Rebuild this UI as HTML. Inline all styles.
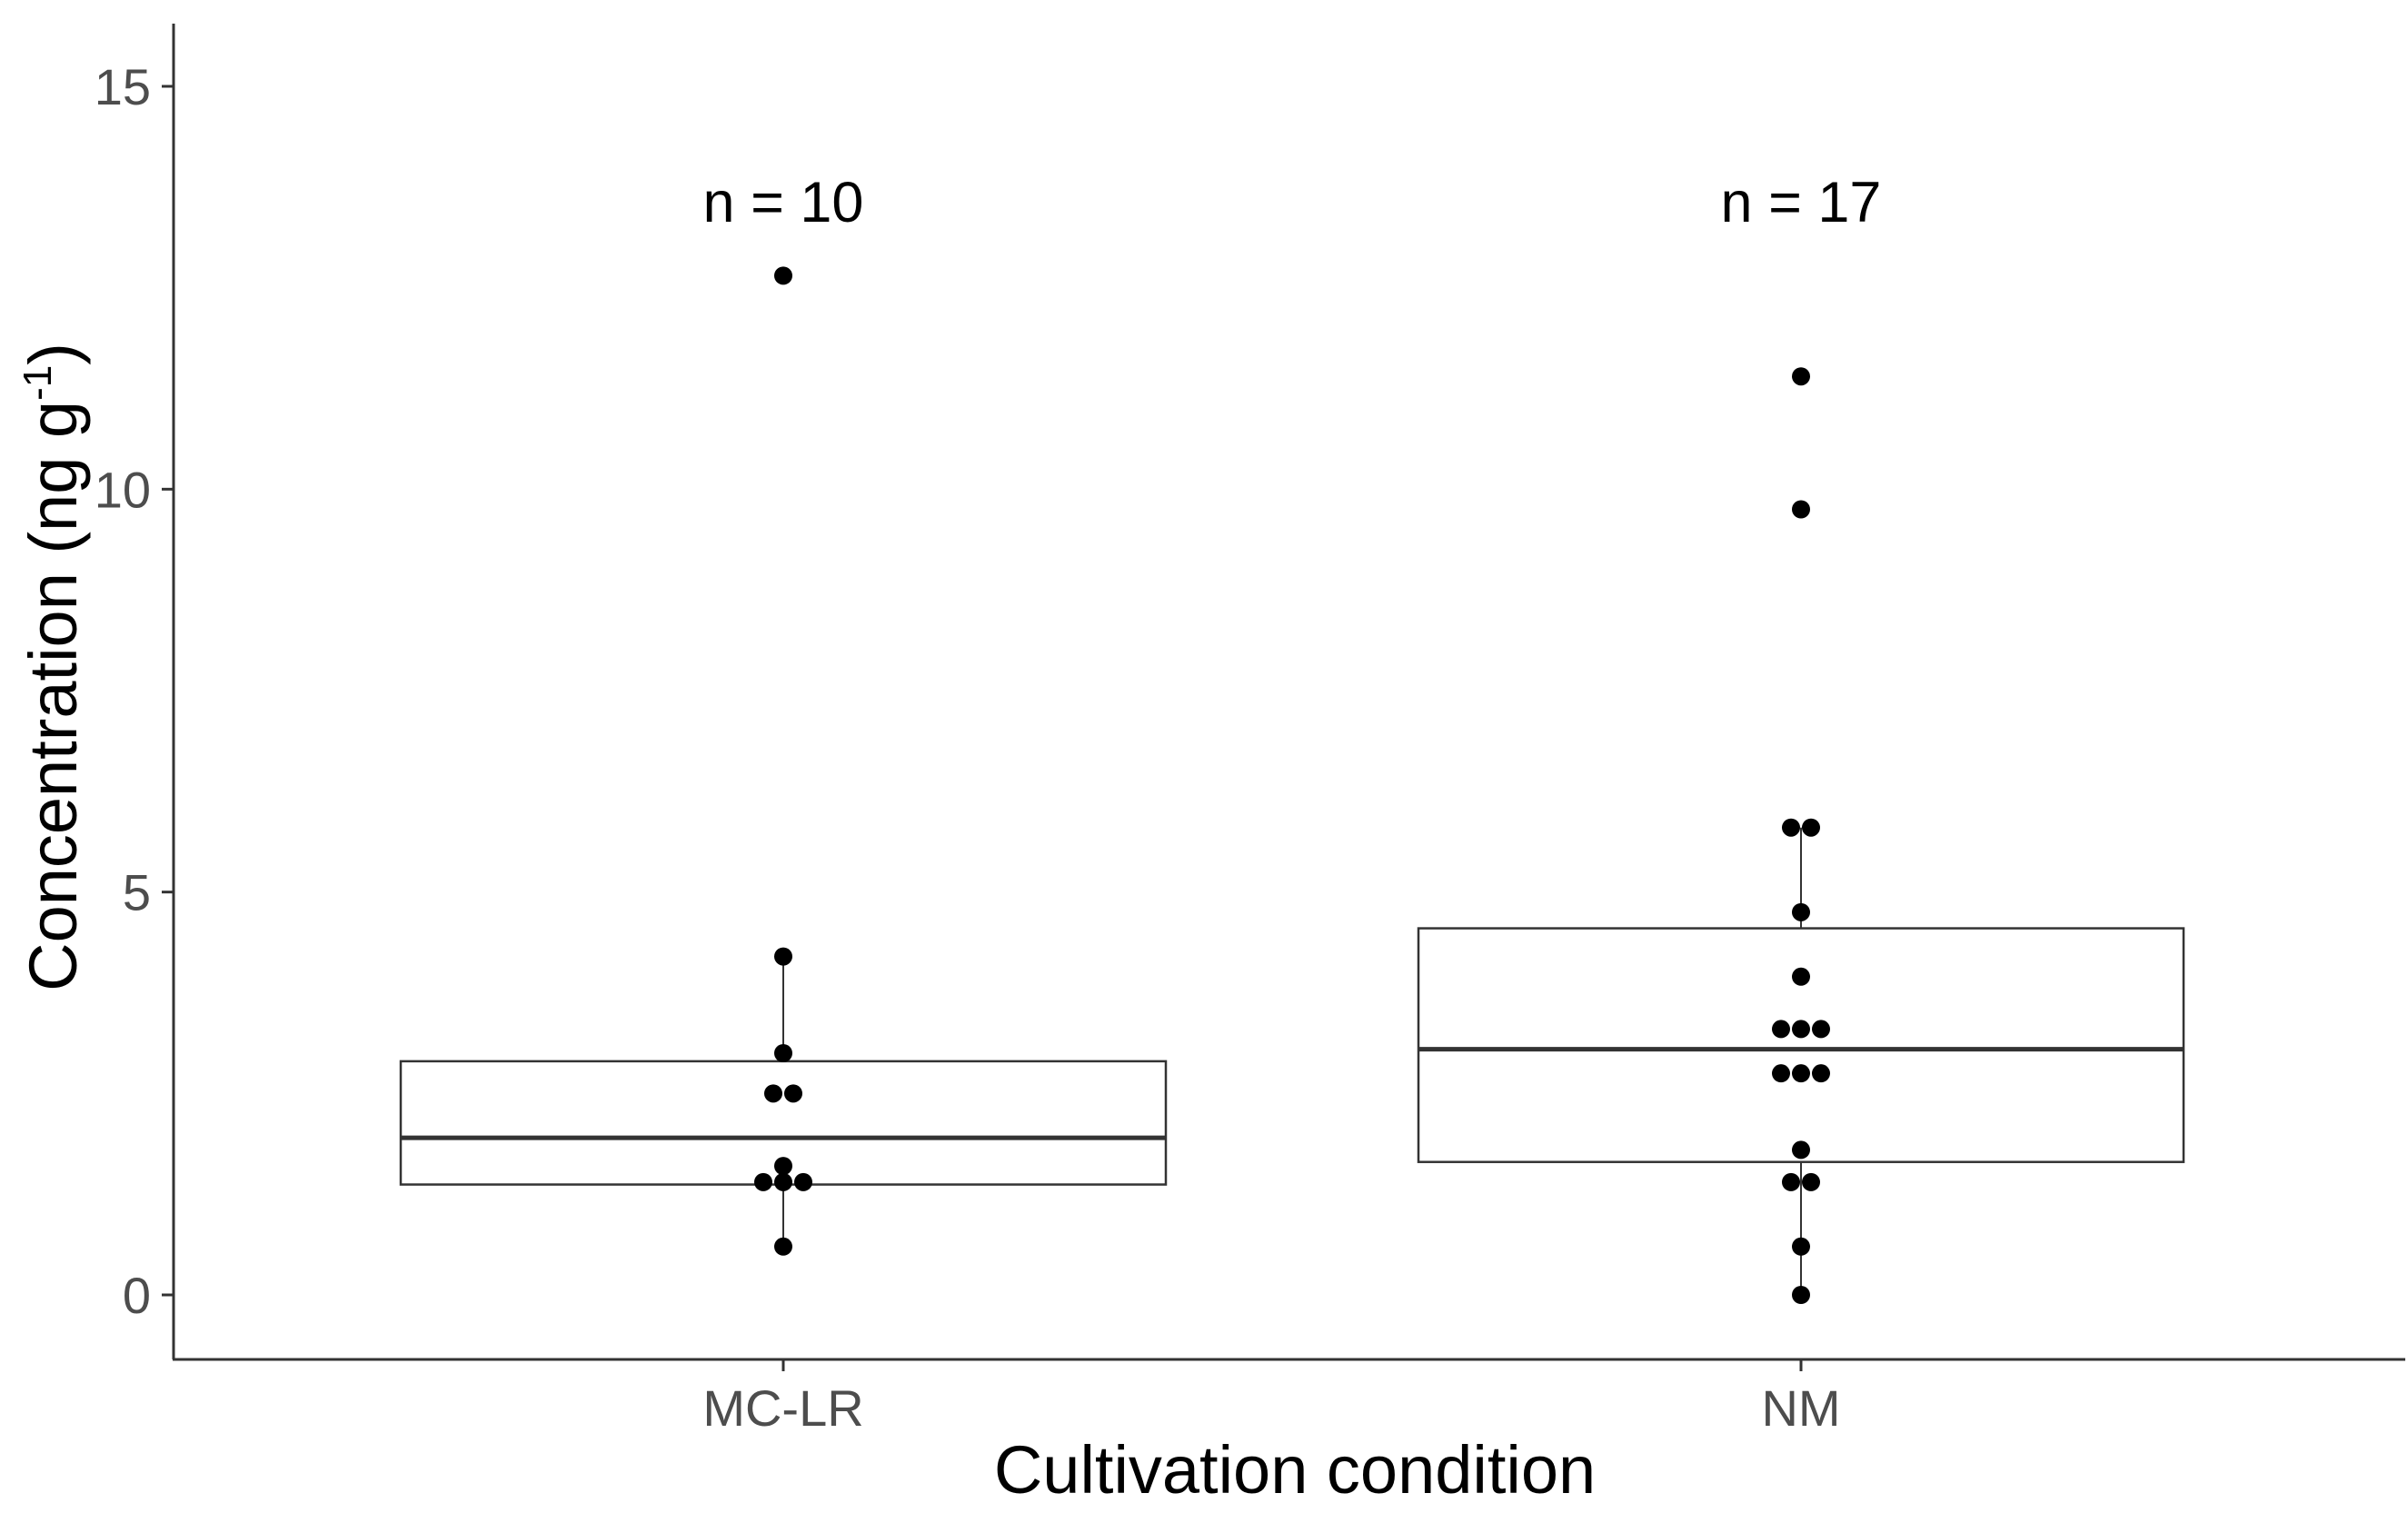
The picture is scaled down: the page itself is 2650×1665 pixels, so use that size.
<!DOCTYPE html>
<html><head><meta charset="utf-8"><style>
html,body{margin:0;padding:0;background:#fff}
svg{display:block}
text{font-family:"Liberation Sans",sans-serif}
</style></head><body>
<svg id="chart" width="2650" height="1665" viewBox="0 0 2650 1665" xmlns="http://www.w3.org/2000/svg">
<g id="plot"></g>
</svg>
<script>
const categories = ["MC-LR", "NM"];
const counts = ["n = 10", "n = 17"];
const q1 = [1.37, 1.65];
const medians = [1.95, 3.05];
const q3 = [2.9, 4.55];
const whiskerLow = [0.6, 0.0];
const whiskerHigh = [4.2, 5.8];
const pointsMC = [12.65, 4.2, 3.0, 2.5, 2.5, 1.6, 1.4, 1.4, 1.4, 0.6];
const pointsNM = [11.4, 9.75, 5.8, 5.8, 4.75, 3.95, 3.3, 3.3, 3.3, 2.75, 2.75, 2.75, 1.8, 1.4, 1.4, 0.6, 0.0];
const yTicks = [0, 5, 10, 15];

const NS = "http://www.w3.org/2000/svg";
const g = document.getElementById("plot");
function y(v){ return 1425 - v * (1330/15); }
const xCenters = [862, 1982];
function x(i){ return xCenters[i]; }
const halfBox = 421;
function el(tag, attrs, text){
  const e = document.createElementNS(NS, tag);
  for (const k in attrs) e.setAttribute(k, attrs[k]);
  if (text !== undefined) e.textContent = text;
  g.appendChild(e);
  return e;
}
let a = el("line",{x1:191,y1:26,x2:191,y2:1496,stroke:"#333","stroke-width":3});


a = el("line",{x1:190,y1:1496,x2:2647,y2:1496,stroke:"#333","stroke-width":3});


yTicks.forEach(t=>{
  const tk = el("line",{x1:178,y1:y(t),x2:191,y2:y(t),stroke:"#333","stroke-width":3});
  
  
  const lb = el("text",{x:166,y:y(t)+20,"text-anchor":"end","font-size":56,fill:"#4d4d4d"}, String(t));
  
  
});
categories.forEach((c,i)=>{
  const tk = el("line",{x1:x(i),y1:1496,x2:x(i),y2:1509,stroke:"#333","stroke-width":3});
  
  
  const lb = el("text",{x:x(i),y:1569,"text-anchor":"middle","font-size":56,fill:"#4d4d4d"}, c);
  
  
  const w1 = el("line",{x1:x(i),y1:y(q3[i]),x2:x(i),y2:y(whiskerHigh[i]),stroke:"#333","stroke-width":2});
  
  
  const w2 = el("line",{x1:x(i),y1:y(q1[i]),x2:x(i),y2:y(whiskerLow[i]),stroke:"#333","stroke-width":2});
  
  
  const box = el("rect",{x:x(i)-halfBox,y:y(q3[i]),width:2*halfBox,height:y(q1[i])-y(q3[i]),fill:"none",stroke:"#333","stroke-width":2.5});
  
  
  const med = el("line",{x1:x(i)-halfBox,y1:y(medians[i]),x2:x(i)+halfBox,y2:y(medians[i]),stroke:"#333","stroke-width":5});
  
  
  const n = el("text",{x:x(i),y:244,"text-anchor":"middle","font-size":63,fill:"#000"}, counts[i]);
  
  
});
function drawDots(arr, i){
  const groups = {};
  arr.forEach(v=>{ const k=v.toFixed(2); groups[k]=(groups[k]||0)+1; });
  Object.keys(groups).forEach(k=>{
    const n = groups[k];
    for(let j=0;j<n;j++){
      const cx = x(i) + (j-(n-1)/2)*22;
      const d = el("circle",{cx:cx,cy:y(parseFloat(k)),r:10,fill:"#000"});
      
      
    }
  });
}
drawDots(pointsMC,0);
drawDots(pointsNM,1);
let t = el("text",{x:1425,y:1643,"text-anchor":"middle","font-size":74,fill:"#000"},"Cultivation condition");


t = el("text",{x:0,y:0,"text-anchor":"middle","font-size":74,fill:"#000",transform:"translate(84,734) rotate(-90)"});


t.innerHTML = 'Concentration (ng g<tspan dy="-28" font-size="44">-1</tspan><tspan dy="28">)</tspan>';
</script>
</body></html>
